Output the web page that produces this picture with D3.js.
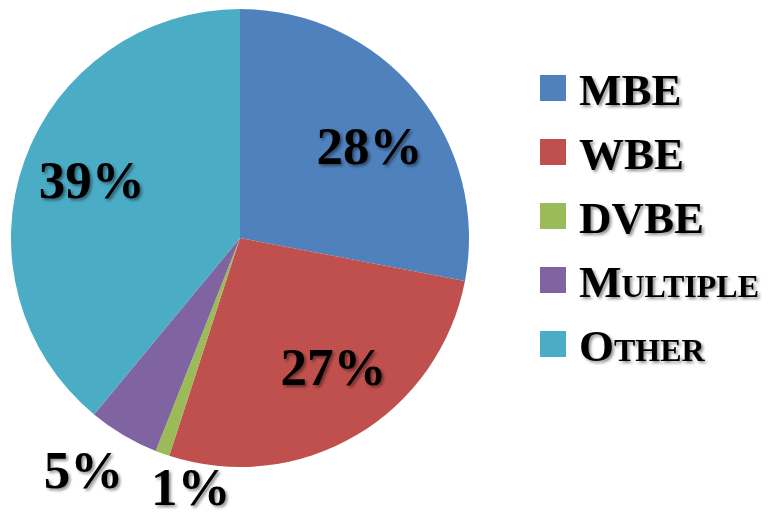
<!DOCTYPE html>
<meta charset="utf-8">
<style>
body { margin: 0; background: #fff; }
text { font-family: "Liberation Serif", "Times New Roman", serif; font-weight: bold; fill: #000; }
.legend text { font-size: 45px; }
.label { font-size: 53px; }
</style>
<svg width="769" height="514"></svg>
<script src="https://d3js.org/d3.v7.min.js"></script>
<script>

var categories = ["MBE", "WBE", "DVBE", "Multiple", "Other"],
    values = [28, 27, 1, 5, 39],
    labels = ["28%", "27%", "1%", "5%", "39%"],
    colors = ["#4F81BD", "#C0504D", "#9BBB59", "#8064A2", "#4BACC6"];

var svg = d3.select("svg"),
    cx = 240, cy = 238, radius = 229;

var defs = svg.append("defs");
defs.append("filter")
    .attr("id", "shadow")
    .attr("x", "-20%").attr("y", "-20%")
    .attr("width", "140%").attr("height", "140%")
  .append("feDropShadow")
    .attr("dx", 2).attr("dy", 2)
    .attr("stdDeviation", 1.5)
    .attr("flood-color", "#000")
    .attr("flood-opacity", 0.45);

var data = categories.map(function(c, i) {
  return {name: c, value: values[i], label: labels[i], color: colors[i]};
});

var pie = d3.pie()
    .sort(null)
    .value(function(d) { return d.value; });

var arc = d3.arc().innerRadius(0).outerRadius(radius);

var g = svg.append("g")
    .attr("transform", "translate(" + cx + "," + cy + ")");

var arcs = pie(data);

g.selectAll("path")
    .data(arcs)
  .enter().append("path")
    .attr("d", arc)
    .attr("fill", function(d) { return d.data.color; });

// label placement: angle shift (rad) and radius factor, like excel's best fit
var place = {
  "MBE":      {shift: 0.07,  r: 0.695},
  "WBE":      {shift: -0.094, r: 0.695},
  "DVBE":     {shift: -0.15, r: 1.105},
  "Multiple": {shift: 0.06,  r: 1.22},
  "Other":    {shift: 0.028, r: 0.695}
};

g.selectAll(".label")
    .data(arcs)
  .enter().append("text")
    .attr("class", "label")
    .attr("filter", "url(#shadow)")
    .attr("text-anchor", "middle")
    .attr("dy", "0.35em")
    .attr("transform", function(d) {
      var p = place[d.data.name];
      var a = (d.startAngle + d.endAngle) / 2 + p.shift;
      var r = radius * p.r;
      return "translate(" + [r * Math.sin(a), -r * Math.cos(a)] + ")";
    })
    .text(function(d) { return d.data.label; });

var legend = svg.append("g")
    .attr("class", "legend")
    .attr("transform", "translate(540,75)");

var item = legend.selectAll("g")
    .data(data)
  .enter().append("g")
    .attr("transform", function(d, i) { return "translate(0," + i * 64 + ")"; });

item.append("rect")
    .attr("width", 26)
    .attr("height", 26)
    .attr("fill", function(d) { return d.color; });

item.append("text")
    .attr("x", 39)
    .attr("y", 30)
    .attr("filter", "url(#shadow)")
    .style("font-variant", function(d) { return d.name === "Multiple" || d.name === "Other" ? "small-caps" : null; })
    .text(function(d) { return d.name; });

</script>
